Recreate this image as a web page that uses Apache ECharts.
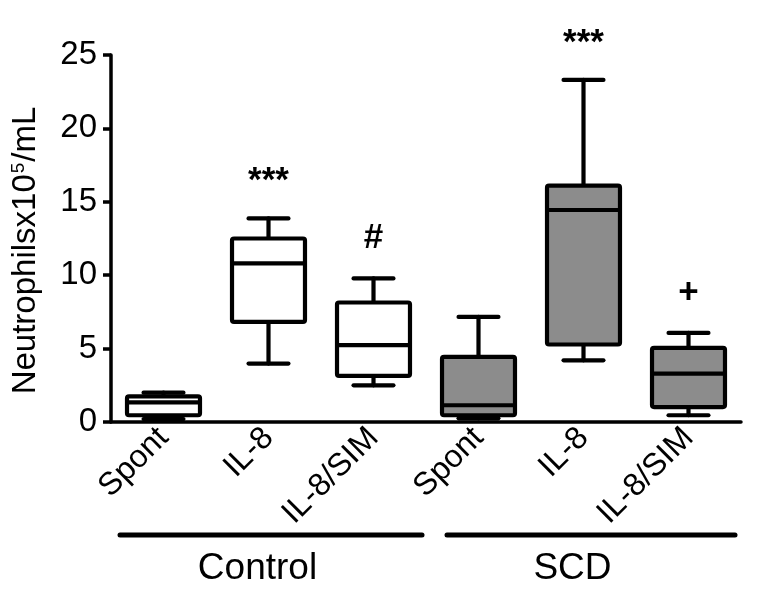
<!DOCTYPE html>
<html><head><meta charset="utf-8">
<script src="https://cdn.jsdelivr.net/npm/echarts@6.0.0/dist/echarts.min.js"></script>
<style>html,body{margin:0;padding:0;background:#fff}#c{width:757px;height:603px}</style>
</head><body><div id="c"></div>
<script>
// ---- data ----
const categories = ['Spont', 'IL-8', 'IL-8/SIM', 'Spont', 'IL-8', 'IL-8/SIM'];
const groupOf = ['Control', 'Control', 'Control', 'SCD', 'SCD', 'SCD'];
const whiskerMin = [0.2, 3.98, 2.5, 0.25, 4.2, 0.46];
const q1 = [0.46, 6.82, 3.14, 0.46, 5.28, 1.02];
const median = [1.34, 10.8, 5.23, 1.14, 14.44, 3.3];
const q3 = [1.75, 12.5, 8.14, 4.43, 16.1, 5.05];
const whiskerMax = [2.0, 13.87, 9.78, 7.16, 23.3, 6.07];
const annotations = ['', '***', '#', '', '***', '+'];
const groupNames = ['Control', 'SCD'];
const groupStart = [0, 3];
const groupEnd = [2, 5];
const yMin = 0, yMax = 25, yStep = 5;

const FONT = '"Liberation Sans", Arial, sans-serif';
const fillFor = { Control: '#ffffff', SCD: '#8c8c8c' };

const rows = categories.map((c, i) => [i, whiskerMin[i], q1[i], median[i], q3[i], whiskerMax[i]]);

function renderItem(params, api) {
  const i = api.value(0);
  const x = api.coord([i, 0])[0];
  const band = api.size([1, 0])[0];
  const bw = band * 0.695, cw = band * 0.38;
  const yLo = api.coord([i, api.value(1)])[1];
  const yQ1 = api.coord([i, api.value(2)])[1];
  const yMed = api.coord([i, api.value(3)])[1];
  const yQ3 = api.coord([i, api.value(4)])[1];
  const yHi = api.coord([i, api.value(5)])[1];
  const ls = { stroke: '#000', lineWidth: 4.2, lineCap: 'round' };
  const ann = annotations[i];
  const isStar = ann.indexOf('*') >= 0;
  const children = [
    { type: 'line', shape: { x1: x, y1: yHi, x2: x, y2: yQ3 }, style: ls },
    { type: 'line', shape: { x1: x, y1: yQ1, x2: x, y2: yLo }, style: ls },
    { type: 'line', shape: { x1: x - cw / 2, y1: yHi, x2: x + cw / 2, y2: yHi }, style: ls },
    { type: 'line', shape: { x1: x - cw / 2, y1: yLo, x2: x + cw / 2, y2: yLo }, style: ls },
    { type: 'rect', shape: { x: x - bw / 2, y: yQ3, width: bw, height: yQ1 - yQ3, r: 2 },
      style: { fill: fillFor[groupOf[i]], stroke: '#000', lineWidth: 4.2, lineJoin: 'round' } },
    { type: 'line', shape: { x1: x - bw / 2, y1: yMed, x2: x + bw / 2, y2: yMed }, style: { stroke: '#000', lineWidth: 4.2 } }
  ];
  if (ann) {
    children.push({ type: 'text', style: {
      text: ann, x: x, y: yHi - (isStar ? 45 : 40) + (isStar ? 8 : 0),
      align: 'center', verticalAlign: 'middle',
      font: 'bold 35px "Liberation Sans", Arial, sans-serif', fill: '#000' } });
  }
  return { type: 'group', children };
}

const chart = echarts.init(document.getElementById('c'), null, { renderer: 'canvas' });
chart.setOption({
  animation: false,
  backgroundColor: '#fff',
  grid: { left: 111, right: 16, top: 55, bottom: 181 },
  xAxis: {
    type: 'category', data: categories,
    axisLine: { lineStyle: { color: '#000', width: 3.5 } },
    axisTick: { show: false },
    axisLabel: { interval: 0, rotate: 45, margin: 11, color: '#000', fontSize: 32, fontFamily: FONT },
    splitLine: { show: false }
  },
  yAxis: {
    type: 'value', min: yMin, max: yMax, interval: yStep,
    axisLine: { show: true, lineStyle: { color: '#000', width: 3.5 } },
    axisTick: { show: true, length: 8, lineStyle: { color: '#000', width: 3.5 } },
    axisLabel: { margin: 14, color: '#000', fontSize: 33, fontFamily: FONT },
    splitLine: { show: false },
    name: 'Neutrophilsx10{sup|5}/mL',
    nameLocation: 'middle', nameGap: 69, nameRotate: 90,
    nameTextStyle: {
      color: '#000', fontSize: 33, fontFamily: FONT,
      padding: [0, 24, 0, 0],
      rich: { sup: { fontSize: 19, fontFamily: FONT, color: '#000', verticalAlign: 'top', padding: [0, 1, 14, 1] } }
    }
  },
  series: [{
    type: 'custom', renderItem: renderItem, data: rows,
    encode: { x: 0, y: [1, 2, 3, 4, 5] }, clip: false
  }]
});

// group brackets under the category labels, positioned from the axis scale
const px = i => chart.convertToPixel({ xAxisIndex: 0 }, i);
const band = px(1) - px(0);
const insetL = [9, 21], insetR = [4, 6];
const lineY = 535, textY = 569;
const graphics = [];
groupNames.forEach((g, k) => {
  const x1 = px(groupStart[k]) - band / 2 + insetL[k];
  const x2 = px(groupEnd[k]) + band / 2 - insetR[k];
  const cx = (px(groupStart[k]) + px(groupEnd[k])) / 2 - 11;
  graphics.push({ type: 'line', shape: { x1, y1: lineY, x2, y2: lineY }, style: { stroke: '#000', lineWidth: 5, lineCap: 'round' } });
  graphics.push({ type: 'text', style: { text: g, x: cx, y: textY, align: 'center', verticalAlign: 'middle', font: '37px ' + FONT, fill: '#000' } });
});
chart.setOption({ graphic: graphics });
</script>
</body></html>
